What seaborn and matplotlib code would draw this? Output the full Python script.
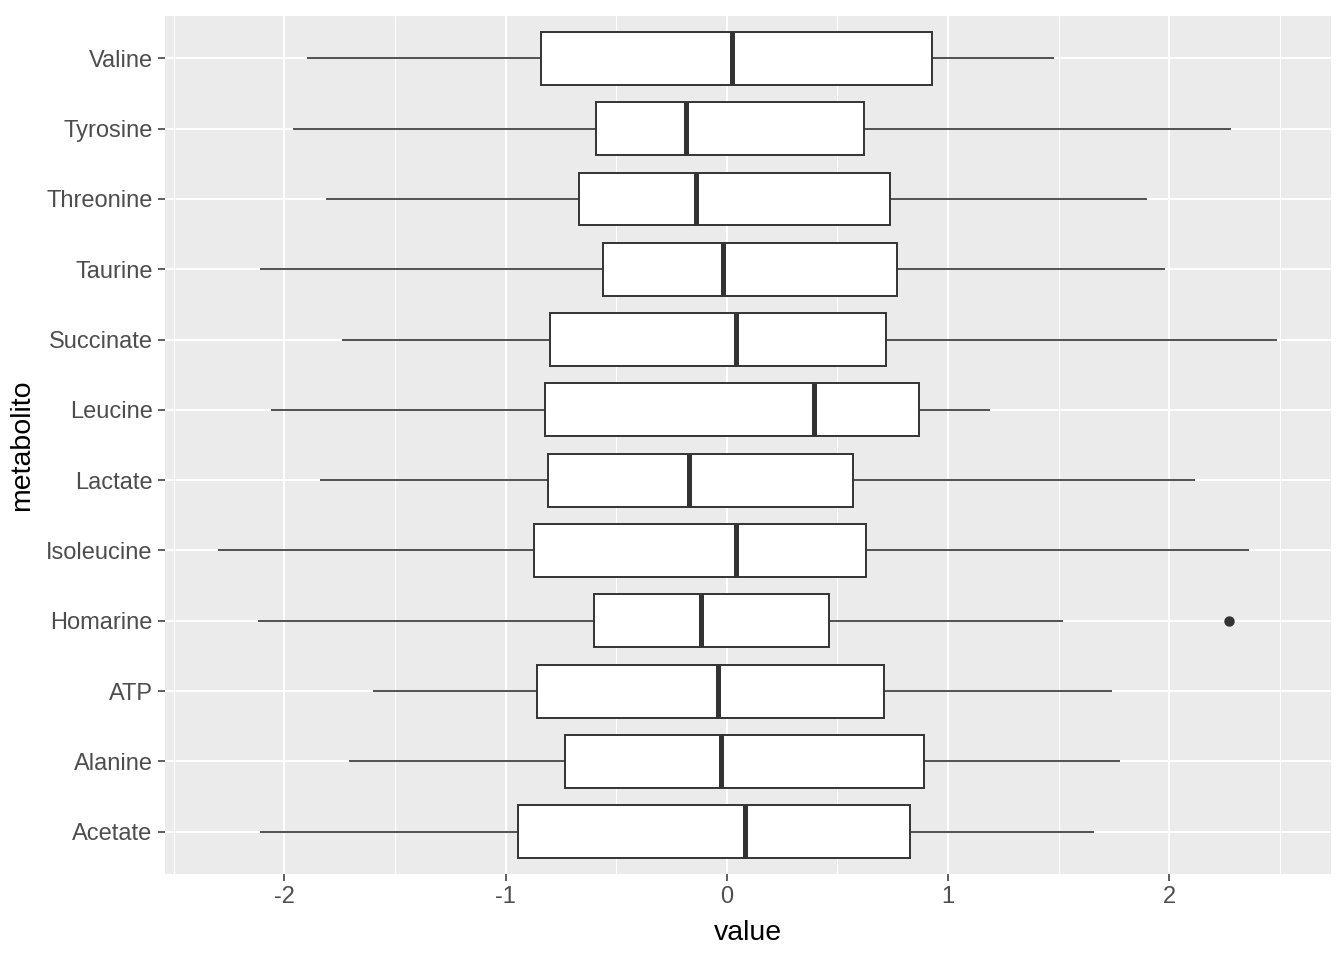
import pandas as pd
import matplotlib.pyplot as plt
import matplotlib.ticker as mticker
import seaborn as sns

# five-number summaries (top to bottom)
metabolites = ['Valine', 'Tyrosine', 'Threonine', 'Taurine', 'Succinate', 'Leucine',
               'Lactate', 'Isoleucine', 'Homarine', 'ATP', 'Alanine', 'Acetate']
whisk_lo = [-1.90, -1.96, -1.81, -2.11, -1.74, -2.06, -1.84, -2.30, -2.12, -1.60, -1.71, -2.11]
q1 = [-0.84, -0.59, -0.67, -0.56, -0.80, -0.82, -0.81, -0.87, -0.60, -0.86, -0.73, -0.945]
median = [0.025, -0.185, -0.14, -0.016, 0.04, 0.395, -0.17, 0.04, -0.115, -0.04, -0.025, 0.083]
q3 = [0.93, 0.62, 0.74, 0.77, 0.72, 0.87, 0.57, 0.63, 0.46, 0.71, 0.89, 0.83]
whisk_hi = [1.48, 2.28, 1.90, 1.98, 2.49, 1.19, 2.115, 2.36, 1.52, 1.74, 1.78, 1.66]
outliers = {'Homarine': 2.27}

# small sample per metabolite that reproduces the summary above
rows = []
for i, m in enumerate(metabolites):
    last = outliers.get(m, whisk_hi[i])
    vals = [whisk_lo[i], q1[i], q1[i], median[i], median[i], q3[i], q3[i], whisk_hi[i], last]
    rows += [(m, v) for v in vals]
df = pd.DataFrame(rows, columns=['metabolito', 'value'])

sns.set_theme(style='darkgrid')
plt.rcParams['font.family'] = ['Liberation Sans', 'DejaVu Sans']

fig = plt.figure(figsize=(13.44, 9.6), dpi=100)
ax = fig.add_axes([0.1228, 0.0896, 0.8672, 0.8937])
ax.set_facecolor('#EBEBEB')

sns.boxplot(data=df, x='value', y='metabolito', order=metabolites, ax=ax,
            color='white', linecolor='#333333', linewidth=1.4, width=0.75,
            saturation=1, showcaps=False, whis=1.5,
            medianprops=dict(linewidth=3.6, color='#333333'),
            whiskerprops=dict(linewidth=1.2, color='#333333'),
            flierprops=dict(marker='o', markersize=6.5, markerfacecolor='#333333',
                            markeredgecolor='#333333'))

ax.set_xlim(-2.54, 2.73)
ax.set_ylim(11.6, -0.6)
ax.xaxis.set_major_locator(mticker.MultipleLocator(1))
ax.xaxis.set_minor_locator(mticker.MultipleLocator(0.5))
ax.xaxis.set_major_formatter(mticker.FuncFormatter(lambda v, p: f'{v:g}'))
ax.grid(which='major', color='white', linewidth=1.5)
ax.grid(which='minor', axis='x', color='white', linewidth=0.75)
ax.grid(which='minor', axis='y', visible=False)
ax.set_axisbelow(True)
for s in ax.spines.values():
    s.set_visible(False)

ax.tick_params(axis='both', which='major', length=5, width=1.1, color='#333333',
               labelcolor='#4D4D4D', labelsize=17, pad=4, bottom=True, left=True)
ax.tick_params(axis='x', which='minor', length=0)
ax.set_xlabel('value', fontsize=20.5, color='black', labelpad=8)
ax.set_ylabel('metabolito', fontsize=20.5, color='black', labelpad=8)

fig.savefig('out.png', dpi=100)
